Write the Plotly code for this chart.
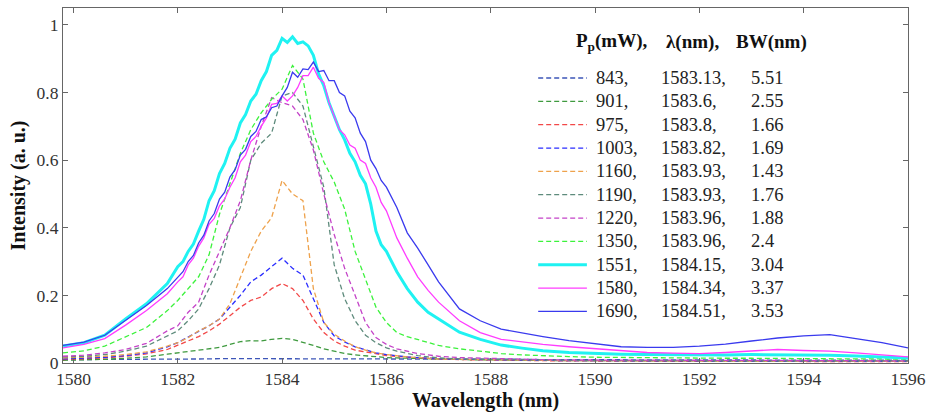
import plotly.graph_objects as go

# Wavelength grid (nm) for the dashed spectra
wavelength_nm = [1579.8, 1580.2, 1580.6, 1581.0, 1581.4, 1581.8,
                 1582.0, 1582.2, 1582.4, 1582.6, 1582.8, 1583.0, 1583.2, 1583.4, 1583.6, 1583.8,
                 1584.0, 1584.2, 1584.4, 1584.6, 1584.8, 1585.0, 1585.2, 1585.4, 1585.6, 1585.8,
                 1586.0, 1586.2, 1586.4, 1586.6, 1586.8, 1587.0,
                 1587.4, 1587.8, 1588.2, 1588.6, 1589.0,
                 1589.5, 1590.0, 1590.5, 1591.0, 1591.5, 1592.0, 1592.5, 1593.0, 1593.5,
                 1594.0, 1594.5, 1595.0, 1595.5, 1596.0]

# Finer grid (nm) for the three solid spectra, which show the cavity ripple
wavelength_fine_nm = [1579.8, 1580.2, 1580.6, 1581.0, 1581.4, 1581.8,
                      1582.0, 1582.1, 1582.2, 1582.3, 1582.4, 1582.5, 1582.6, 1582.7, 1582.8, 1582.9,
                      1583.0, 1583.1, 1583.2, 1583.3, 1583.4, 1583.5, 1583.6, 1583.7, 1583.8, 1583.9,
                      1584.0, 1584.1, 1584.2, 1584.3, 1584.4, 1584.5, 1584.6, 1584.7, 1584.8, 1584.9,
                      1585.0, 1585.1, 1585.2, 1585.3, 1585.4, 1585.5, 1585.6, 1585.7, 1585.8, 1585.9,
                      1586.0,
                      1586.2, 1586.4, 1586.6, 1586.8, 1587.0,
                      1587.4, 1587.8, 1588.2, 1588.6, 1589.0,
                      1589.5, 1590.0, 1590.5, 1591.0, 1591.5, 1592.0, 1592.5, 1593.0, 1593.5,
                      1594.0, 1594.5, 1595.0, 1595.5, 1596.0]

# Normalised intensity for each pump power (dashed spectra)
i_843 = [0.010, 0.010, 0.011, 0.011, 0.011, 0.012,
         0.012, 0.012, 0.012, 0.012, 0.013, 0.013, 0.013, 0.013, 0.013, 0.013,
         0.013, 0.013, 0.013, 0.013, 0.013, 0.012, 0.012, 0.012, 0.012, 0.012,
         0.012, 0.012, 0.012, 0.012, 0.012, 0.011,
         0.011, 0.011, 0.011, 0.011, 0.010,
         0.010, 0.010, 0.010, 0.010, 0.009, 0.009, 0.009, 0.009, 0.009,
         0.008, 0.008, 0.008, 0.008, 0.008]
i_901 = [0.008, 0.009, 0.011, 0.014, 0.018, 0.026,
         0.030, 0.034, 0.038, 0.042, 0.046, 0.055, 0.063, 0.066, 0.065, 0.070,
         0.073, 0.070, 0.062, 0.052, 0.042, 0.034, 0.028, 0.024, 0.021, 0.018,
         0.016, 0.015, 0.014, 0.013, 0.012, 0.011,
         0.010, 0.009, 0.009, 0.008, 0.008,
         0.007, 0.007, 0.007, 0.006, 0.006, 0.006, 0.006, 0.006, 0.006,
         0.005, 0.005, 0.005, 0.005, 0.005]
i_975 = [0.010, 0.012, 0.015, 0.020, 0.027, 0.040,
         0.052, 0.065, 0.078, 0.095, 0.115, 0.140, 0.165, 0.185, 0.195, 0.220,
         0.235, 0.220, 0.185, 0.130, 0.090, 0.065, 0.050, 0.038, 0.032, 0.027,
         0.022, 0.019, 0.017, 0.015, 0.013, 0.012,
         0.010, 0.009, 0.008, 0.007, 0.007,
         0.006, 0.006, 0.005, 0.005, 0.005, 0.005, 0.005, 0.005, 0.005,
         0.004, 0.004, 0.004, 0.004, 0.004]
i_1003 = [0.012, 0.014, 0.017, 0.022, 0.030, 0.048,
          0.060, 0.077, 0.093, 0.110, 0.130, 0.165, 0.200, 0.240, 0.260, 0.285,
          0.310, 0.280, 0.260, 0.190, 0.120, 0.080, 0.062, 0.048, 0.038, 0.030,
          0.025, 0.021, 0.018, 0.016, 0.014, 0.013,
          0.011, 0.010, 0.009, 0.008, 0.008,
          0.007, 0.007, 0.006, 0.006, 0.006, 0.006, 0.006, 0.006, 0.006,
          0.005, 0.005, 0.005, 0.005, 0.005]
i_1160 = [0.015, 0.017, 0.020, 0.025, 0.033, 0.050,
          0.060, 0.075, 0.095, 0.110, 0.130, 0.175, 0.250, 0.330, 0.390, 0.430,
          0.540, 0.500, 0.480, 0.220, 0.120, 0.085, 0.065, 0.048, 0.038, 0.030,
          0.025, 0.021, 0.018, 0.016, 0.014, 0.012,
          0.011, 0.010, 0.009, 0.008, 0.008,
          0.007, 0.007, 0.006, 0.006, 0.006, 0.006, 0.006, 0.006, 0.005,
          0.005, 0.005, 0.005, 0.005, 0.005]
i_1190 = [0.018, 0.020, 0.025, 0.035, 0.050, 0.080,
          0.095, 0.125, 0.160, 0.220, 0.290, 0.400, 0.460, 0.600, 0.650, 0.680,
          0.790, 0.800, 0.760, 0.640, 0.520, 0.290, 0.190, 0.125, 0.082, 0.060,
          0.045, 0.035, 0.028, 0.022, 0.018, 0.015,
          0.012, 0.011, 0.010, 0.009, 0.008,
          0.008, 0.007, 0.007, 0.007, 0.007, 0.006, 0.006, 0.006, 0.006,
          0.006, 0.006, 0.006, 0.006, 0.006]
i_1220 = [0.020, 0.023, 0.030, 0.040, 0.058, 0.095,
          0.110, 0.150, 0.180, 0.260, 0.330, 0.400, 0.480, 0.600, 0.700, 0.785,
          0.770, 0.760, 0.720, 0.630, 0.500, 0.380, 0.280, 0.200, 0.120, 0.075,
          0.055, 0.042, 0.035, 0.028, 0.024, 0.020,
          0.016, 0.014, 0.012, 0.011, 0.010,
          0.009, 0.009, 0.008, 0.008, 0.008, 0.008, 0.007, 0.007, 0.007,
          0.007, 0.007, 0.007, 0.006, 0.006]
i_1350 = [0.030, 0.036, 0.050, 0.078, 0.105, 0.155,
          0.185, 0.220, 0.255, 0.320, 0.440, 0.530, 0.620, 0.690, 0.740, 0.780,
          0.810, 0.880, 0.840, 0.680, 0.595, 0.535, 0.455, 0.330, 0.245, 0.165,
          0.120, 0.090, 0.078, 0.070, 0.060, 0.052,
          0.042, 0.034, 0.028, 0.024, 0.021,
          0.019, 0.017, 0.016, 0.015, 0.015, 0.014, 0.014, 0.014, 0.013,
          0.013, 0.013, 0.012, 0.012, 0.011]

# Solid spectra on the fine grid
i_1551 = [0.050, 0.060, 0.082, 0.130, 0.175, 0.235,
          0.285, 0.300, 0.330, 0.352, 0.390, 0.425, 0.480, 0.510, 0.560, 0.590,
          0.635, 0.662, 0.710, 0.735, 0.775, 0.795, 0.835, 0.862, 0.910, 0.925,
          0.960, 0.948, 0.965, 0.945, 0.950, 0.938, 0.910, 0.855, 0.820, 0.770,
          0.730, 0.690, 0.660, 0.620, 0.595, 0.555, 0.530, 0.470, 0.390, 0.350,
          0.330,
          0.270, 0.220, 0.180, 0.150, 0.130,
          0.091, 0.070, 0.053, 0.044, 0.036,
          0.031, 0.028, 0.026, 0.025, 0.024, 0.024, 0.024, 0.025, 0.025,
          0.024, 0.023, 0.021, 0.018, 0.015]
i_1580 = [0.045, 0.055, 0.072, 0.112, 0.155, 0.205,
          0.240, 0.255, 0.290, 0.310, 0.345, 0.370, 0.410, 0.428, 0.465, 0.485,
          0.520, 0.548, 0.595, 0.615, 0.655, 0.670, 0.700, 0.725, 0.765, 0.768,
          0.790, 0.775, 0.790, 0.815, 0.850, 0.850, 0.875, 0.842, 0.830, 0.770,
          0.730, 0.690, 0.675, 0.645, 0.635, 0.600, 0.590, 0.548, 0.520, 0.475,
          0.450,
          0.370, 0.310, 0.255, 0.215, 0.180,
          0.125, 0.090, 0.070, 0.062, 0.055,
          0.048, 0.042, 0.035, 0.031, 0.029, 0.028, 0.031, 0.036, 0.040,
          0.037, 0.035, 0.030, 0.024, 0.018]
i_1690 = [0.052, 0.062, 0.082, 0.125, 0.170, 0.220,
          0.255, 0.270, 0.300, 0.318, 0.355, 0.378, 0.420, 0.442, 0.485, 0.505,
          0.550, 0.572, 0.615, 0.632, 0.670, 0.685, 0.720, 0.728, 0.755, 0.760,
          0.790, 0.815, 0.860, 0.845, 0.870, 0.868, 0.890, 0.862, 0.865, 0.835,
          0.835, 0.800, 0.790, 0.745, 0.725, 0.680, 0.655, 0.600, 0.575, 0.540,
          0.520,
          0.460, 0.385, 0.340, 0.290, 0.240,
          0.160, 0.125, 0.100, 0.088, 0.078,
          0.066, 0.058, 0.048, 0.046, 0.046, 0.050, 0.056, 0.065, 0.074,
          0.080, 0.084, 0.072, 0.060, 0.045]

# Legend table: pump power, peak wavelength, bandwidth
pump_mw = [843, 901, 975, 1003, 1160, 1190, 1220, 1350, 1551, 1580, 1690]
peak_nm = [1583.13, 1583.6, 1583.8, 1583.82, 1583.93, 1583.93, 1583.96, 1583.96, 1584.15, 1584.34, 1584.51]
bandwidth_nm = [5.51, 2.55, 1.66, 1.69, 1.43, 1.76, 1.88, 2.4, 3.04, 3.37, 3.53]

spectra = [i_843, i_901, i_975, i_1003, i_1160, i_1190, i_1220, i_1350, i_1551, i_1580, i_1690]
grids = [wavelength_nm] * 8 + [wavelength_fine_nm] * 3

colors = ["#3d56b8", "#3f9a3f", "#f24848", "#2a2dff", "#eea24c", "#5e8b7c",
          "#c443c8", "#3cf23c", "#1ff2f2", "#ff3cff", "#3a3aee"]
dashes = ["5px,3px"] * 8 + ["solid"] * 3
widths = [1.3] * 8 + [3.0, 1.3, 1.3]

# Plot-area geometry in pixels (used to place the hand-built legend)
W, H = 933, 414
L, R, T, B = 63, 20, 7, 50.5
pw, ph = W - L - R, H - T - B


def px_x(x):
    return (x - L) / pw


def px_y(y):
    return (H - B - y) / ph


FONT = "Liberation Serif"

fig = go.Figure()
for k, ys in enumerate(spectra):
    fig.add_trace(go.Scatter(
        x=grids[k], y=ys, mode="lines", name=str(pump_mw[k]),
        line=dict(color=colors[k], width=widths[k], dash=dashes[k]),
        showlegend=False, hoverinfo="skip",
    ))

shapes = []
annotations = []
row0, row_step = 77.3, 23.44
for k in range(len(pump_mw)):
    yc = row0 + k * row_step
    shapes.append(dict(type="line", xref="paper", yref="paper",
                       x0=px_x(541), x1=px_x(590), y0=px_y(yc), y1=px_y(yc),
                       line=dict(color=colors[k], width=widths[k], dash=dashes[k])))
    for xpix, txt in ((597, f"{pump_mw[k]},"), (663, f"{peak_nm[k]},"), (753, f"{bandwidth_nm[k]}")):
        annotations.append(dict(x=px_x(xpix), y=px_y(yc), xref="paper", yref="paper",
                                xanchor="left", yanchor="middle", text=txt, showarrow=False,
                                font=dict(family=FONT, size=18.5, color="#222222")))

for xpix, txt in ((577, "<b>P<sub>p</sub>(mW),</b>"), (668, "<b>λ(nm),</b>"), (738, "<b>BW(nm)</b>")):
    annotations.append(dict(x=px_x(xpix), y=px_y(41), xref="paper", yref="paper",
                            xanchor="left", yanchor="middle", text=txt, showarrow=False,
                            font=dict(family=FONT, size=19, color="#111111")))

axis_common = dict(
    showline=True, linecolor="#666666", linewidth=1.2, mirror="ticks",
    ticks="inside", ticklen=5, tickcolor="#666666", tickwidth=1.2,
    showgrid=False, zeroline=False,
    tickfont=dict(family=FONT, size=17.5, color="#333333"),
)

fig.update_layout(
    width=W, height=H,
    margin=dict(l=L, r=R, t=T, b=B),
    paper_bgcolor="white", plot_bgcolor="white",
    shapes=shapes, annotations=annotations,
    xaxis=dict(range=[1579.8, 1596], tickvals=[1580, 1582, 1584, 1586, 1588, 1590, 1592, 1594, 1596],
               title=dict(text="<b>Wavelength (nm)</b>", standoff=3,
                          font=dict(family=FONT, size=20, color="#111111")),
               **axis_common),
    yaxis=dict(range=[0, 1.05], tickvals=[0, 0.2, 0.4, 0.6, 0.8, 1],
               ticktext=["0", "0.2", "0.4", "0.6", "0.8", "1"],
               title=dict(text="<b>Intensity (a. u.)</b>", standoff=5,
                          font=dict(family=FONT, size=20, color="#111111")),
               **axis_common),
)

fig.write_html("out.html")
